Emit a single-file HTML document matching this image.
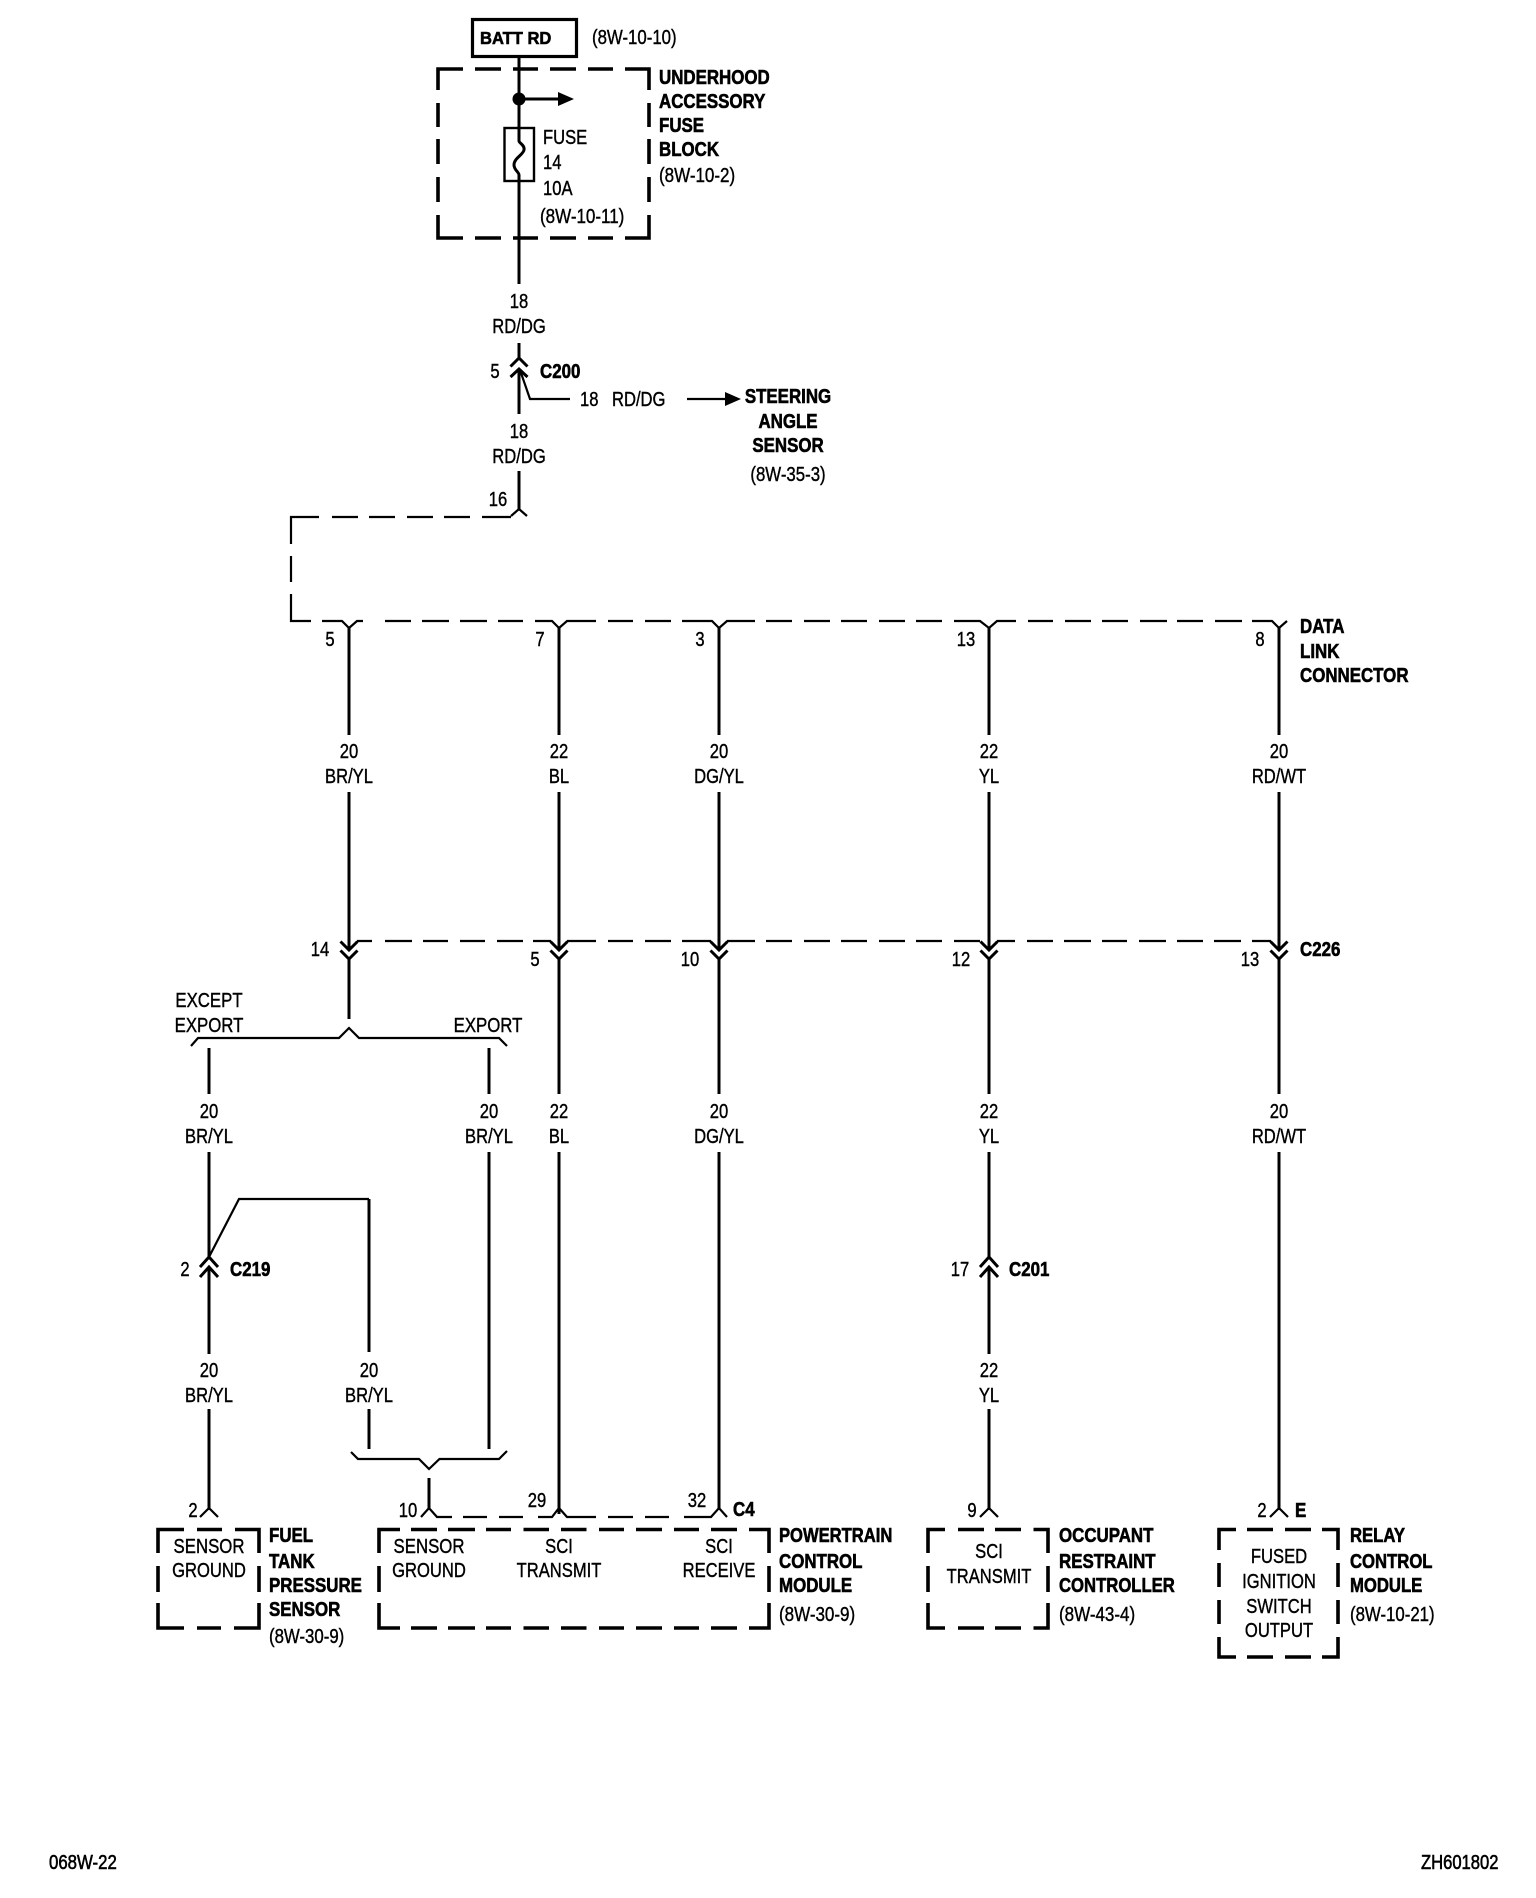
<!DOCTYPE html>
<html><head><meta charset="utf-8"><style>
html,body{margin:0;padding:0;background:#fff}
svg{display:block}
text{font-family:"Liberation Sans",sans-serif;font-size:20px;fill:#000}
.r{stroke:#000;stroke-width:.4}
.b{font-weight:bold;stroke:#000;stroke-width:.6}
.m{text-anchor:middle}
.w{fill:none;stroke:#000;stroke-width:3}
.t{fill:none;stroke:#000;stroke-width:2.2}
.d{fill:none;stroke:#000;stroke-width:3.6}
</style></head><body>
<svg width="1536" height="1898" viewBox="0 0 1536 1898" xmlns="http://www.w3.org/2000/svg">
<rect width="1536" height="1898" fill="#fff"/>
<!-- top box -->
<rect x="472.500" y="19.500" width="104" height="37" fill="none" stroke="#000" stroke-width="3.200"/>
<path class="d" d="M438 90V69H463M475 69H501M513 69H538M550 69H576M588 69H613M625 69H649V90M649 103V127M649 139V164M649 177V202M649 215V238H625M613 238H588M576 238H550M538 238H513M501 238H475M463 238H438V215M438 202V177M438 164V139M438 127V103"/>
<path class="w" d="M519 58V128M519 182V284"/>
<circle cx="519" cy="99" r="6.500"/>
<path class="w" d="M519 99H560"/>
<path d="M558 92L574 99L558 106Z"/>
<rect x="504.500" y="128" width="29.500" height="53" fill="none" stroke="#000" stroke-width="2.400"/>
<path class="w" d="M519 128V141C519 143 525 145 524 150C523 155 514 158 514 165C514 170 519 172 519 175V182"/>
<!-- C200 -->
<path class="w" d="M519 343V358M510.500 366.500L519 358L527.500 366.500M510.500 377L519 369L527.500 377M519 369V414"/>
<path class="t" d="M520 370L530 399H570M687 399H728"/>
<path d="M725 392L741 399L725 406Z"/>
<path class="w" d="M519 471V509"/>
<path class="t" d="M511 516L519 509L527 516"/>
<!-- dashed harness upper -->
<path class="t" d="M511 517H482M470 517H444M433 517H407M395 517H369M358 517H332M319 517H291V544M291 556V582M291 594V621H311M322 621H342L349 628L357 621H363M385 621H411M422 621H449M460 621H487M498 621H523M535 621H552L559 628L567 621H596M608 621H633M645 621H671M682 621H712L719 628L727 621H755M766 621H792M804 621H830M841 621H867M879 621H905M916 621H942M954 621H980L989 628L997 621H1016M1028 621H1053M1065 621H1091M1102 621H1128M1140 621H1167M1177 621H1203M1215 621H1242M1252 621H1272L1279 628L1287 621"/>
<path class="w" d="M349 628V735M349 792V950M559 628V735M559 792V950M719 628V735M719 792V950M989 628V735M989 792V950M1279 628V735M1279 792V950"/>
<!-- C226 -->
<path class="t" d="M357 941H372M385 941H412M423 941H448M460 941H485M497 941H523M533 941H551M567 941H596M608 941H633M645 941H671M682 941H711M727 941H755M766 941H792M804 941H830M841 941H867M879 941H905M916 941H942M954 941H980M997 941H1015M1027 941H1053M1064 941H1091M1102 941H1127M1139 941H1166M1177 941H1203M1214 941H1241M1252 941H1271"/>
<path class="w" d="M340.500 941.500L349 950L357.500 941.500M340.500 950.500L349 959L357.500 950.500M550.500 941.500L559 950L567.500 941.500M550.500 950.500L559 959L567.500 950.500M710.500 941.500L719 950L727.500 941.500M710.500 950.500L719 959L727.500 950.500M980.500 941.500L989 950L997.500 941.500M980.500 950.500L989 959L997.500 950.500M1270.500 941.500L1279 950L1287.500 941.500M1270.500 950.500L1279 959L1287.500 950.500"/>
<path class="w" d="M349 959V1019M559 959V1094M559 1152V1514M719 959V1094M719 1152V1508M989 959V1094M989 1152V1257M989 1267V1354M989 1409V1508M1279 959V1094M1279 1152V1508"/>
<!-- bracket -->
<path class="t" d="M191 1046L198 1038H339L349 1028L359 1038H499L507 1046"/>
<path class="w" d="M209 1048V1094M209 1152V1257M209 1267V1354M209 1409V1508M489 1048V1094M489 1152V1449M369 1199V1352M369 1409V1449"/>
<path class="t" d="M209 1257L239 1199H369"/>
<path class="w" d="M200 1267L209 1257L218 1267M200 1277L209 1267L218 1277M980 1267L989 1257L998 1267M980 1277L989 1267L998 1277"/>
<!-- lower bracket -->
<path class="t" d="M351 1452L358 1459H419L429 1469L439.500 1459H499L507 1451"/>
<path class="w" d="M429 1478V1508"/>
<!-- bottom connector -->
<path class="t" d="M421 1517L429 1508L437 1517H452M463 1517H487M499 1517H523M538 1517H552L559 1508L567 1517H596M608 1517H633M645 1517H669M684 1517H711L719 1508L727 1517M200 1517L209 1508L218 1517M980 1517L989 1508L998 1517M1270 1517L1279 1508L1288 1517"/>
<!-- boxes -->
<path class="d" d="M158 1553V1529.500H184M197 1529.500H222M235 1529.500H259V1553M259 1566V1592M259 1603V1628H234M221 1628H197M184 1628H158V1603M158 1592V1566"/>
<path class="d" d="M379 1553V1529.500H400M411 1529.500H437M448 1529.500H475M486 1529.500H511M523.500 1529.500H549M561 1529.500H586.500M599 1529.500H624M636 1529.500H662M674 1529.500H699M711 1529.500H737M749 1529.500H769V1553M769 1566V1592M769 1603V1628H749M737 1628H711M699 1628H674M662 1628H636M624 1628H599M586.500 1628H561M549 1628H523.500M511 1628H486M475 1628H448M437 1628H411M400 1628H379V1603M379 1592V1566"/>
<path class="d" d="M928 1553V1529.500H945M958 1529.500H984M995 1529.500H1021M1033.500 1529.500H1048V1553M1048 1566V1592M1048 1603V1628H1033.500M1021 1628H995M984 1628H958M945 1628H928V1603M928 1592V1566"/>
<path class="d" d="M1219 1550V1529.500H1236M1247 1529.500H1273M1285 1529.500H1311M1322 1529.500H1338V1550M1338 1563V1587M1338 1600V1624M1338 1637V1657H1322M1311 1657H1285M1273 1657H1247M1236 1657H1219V1637M1219 1624V1600M1219 1587V1563"/>
<!-- top labels -->
<text class="b" style="font-size:18px" transform="translate(480 44) scale(.92 1)">BATT RD</text>
<text class="r" transform="translate(592 44) scale(.84 1)">(8W-10-10)</text>
<text class="b" transform="translate(659 84) scale(.845 1)">UNDERHOOD</text>
<text class="b" transform="translate(659 108) scale(.845 1)">ACCESSORY</text>
<text class="b" transform="translate(659 132) scale(.845 1)">FUSE</text>
<text class="b" transform="translate(659 156) scale(.845 1)">BLOCK</text>
<text class="r" transform="translate(659 182) scale(.85 1)">(8W-10-2)</text>
<text class="r" transform="translate(543 144) scale(.83 1)">FUSE</text>
<text class="r" transform="translate(543 169) scale(.83 1)">14</text>
<text class="r" transform="translate(543 195) scale(.83 1)">10A</text>
<text class="r" transform="translate(540 223) scale(.85 1)">(8W-10-11)</text>
<text class="r m" transform="translate(519 308) scale(.83 1)">18</text>
<text class="r m" transform="translate(519 333) scale(.83 1)">RD/DG</text>
<text class="r m" transform="translate(495 378) scale(.83 1)">5</text>
<text class="b" transform="translate(540 378) scale(.845 1)">C200</text>
<text class="r" transform="translate(580 406) scale(.83 1)">18</text>
<text class="r" transform="translate(612 406) scale(.83 1)">RD/DG</text>
<text class="b m" transform="translate(788 403) scale(.845 1)">STEERING</text>
<text class="b m" transform="translate(788 428) scale(.845 1)">ANGLE</text>
<text class="b m" transform="translate(788 452) scale(.845 1)">SENSOR</text>
<text class="r m" transform="translate(788 481) scale(.84 1)">(8W-35-3)</text>
<text class="r m" transform="translate(519 438) scale(.83 1)">18</text>
<text class="r m" transform="translate(519 463) scale(.83 1)">RD/DG</text>
<text class="r m" transform="translate(498 506) scale(.83 1)">16</text>
<!-- pin numbers row 1 -->
<text class="r m" transform="translate(330 646) scale(.83 1)">5</text>
<text class="r m" transform="translate(540 646) scale(.83 1)">7</text>
<text class="r m" transform="translate(700 646) scale(.83 1)">3</text>
<text class="r m" transform="translate(966 646) scale(.83 1)">13</text>
<text class="r m" transform="translate(1260 646) scale(.83 1)">8</text>
<text class="b" transform="translate(1300 633) scale(.845 1)">DATA</text>
<text class="b" transform="translate(1300 658) scale(.845 1)">LINK</text>
<text class="b" transform="translate(1300 682) scale(.845 1)">CONNECTOR</text>
<!-- wire labels row 1 -->
<text class="r m" transform="translate(349 758) scale(.83 1)">20</text>
<text class="r m" transform="translate(349 783) scale(.83 1)">BR/YL</text>
<text class="r m" transform="translate(559 758) scale(.83 1)">22</text>
<text class="r m" transform="translate(559 783) scale(.83 1)">BL</text>
<text class="r m" transform="translate(719 758) scale(.83 1)">20</text>
<text class="r m" transform="translate(719 783) scale(.83 1)">DG/YL</text>
<text class="r m" transform="translate(989 758) scale(.83 1)">22</text>
<text class="r m" transform="translate(989 783) scale(.83 1)">YL</text>
<text class="r m" transform="translate(1279 758) scale(.83 1)">20</text>
<text class="r m" transform="translate(1279 783) scale(.83 1)">RD/WT</text>
<!-- pin numbers row 2 -->
<text class="r m" transform="translate(320 956) scale(.83 1)">14</text>
<text class="r m" transform="translate(535 966) scale(.83 1)">5</text>
<text class="r m" transform="translate(690 966) scale(.83 1)">10</text>
<text class="r m" transform="translate(961 966) scale(.83 1)">12</text>
<text class="r m" transform="translate(1250 966) scale(.83 1)">13</text>
<text class="b" transform="translate(1300 956) scale(.845 1)">C226</text>
<text class="r m" transform="translate(209 1007) scale(.84 1)">EXCEPT</text>
<text class="r m" transform="translate(209 1032) scale(.84 1)">EXPORT</text>
<text class="r m" transform="translate(488 1032) scale(.84 1)">EXPORT</text>
<!-- wire labels row 2 -->
<text class="r m" transform="translate(209 1118) scale(.83 1)">20</text>
<text class="r m" transform="translate(209 1143) scale(.83 1)">BR/YL</text>
<text class="r m" transform="translate(489 1118) scale(.83 1)">20</text>
<text class="r m" transform="translate(489 1143) scale(.83 1)">BR/YL</text>
<text class="r m" transform="translate(559 1118) scale(.83 1)">22</text>
<text class="r m" transform="translate(559 1143) scale(.83 1)">BL</text>
<text class="r m" transform="translate(719 1118) scale(.83 1)">20</text>
<text class="r m" transform="translate(719 1143) scale(.83 1)">DG/YL</text>
<text class="r m" transform="translate(989 1118) scale(.83 1)">22</text>
<text class="r m" transform="translate(989 1143) scale(.83 1)">YL</text>
<text class="r m" transform="translate(1279 1118) scale(.83 1)">20</text>
<text class="r m" transform="translate(1279 1143) scale(.83 1)">RD/WT</text>
<!-- C219 / C201 -->
<text class="r m" transform="translate(185 1276) scale(.83 1)">2</text>
<text class="b" transform="translate(230 1276) scale(.845 1)">C219</text>
<text class="r m" transform="translate(960 1276) scale(.83 1)">17</text>
<text class="b" transform="translate(1009 1276) scale(.845 1)">C201</text>
<!-- wire labels row 3 -->
<text class="r m" transform="translate(209 1377) scale(.83 1)">20</text>
<text class="r m" transform="translate(209 1402) scale(.83 1)">BR/YL</text>
<text class="r m" transform="translate(369 1377) scale(.83 1)">20</text>
<text class="r m" transform="translate(369 1402) scale(.83 1)">BR/YL</text>
<text class="r m" transform="translate(989 1377) scale(.83 1)">22</text>
<text class="r m" transform="translate(989 1402) scale(.83 1)">YL</text>
<!-- bottom pins -->
<text class="r m" transform="translate(193 1517) scale(.83 1)">2</text>
<text class="r m" transform="translate(408 1517) scale(.83 1)">10</text>
<text class="r m" transform="translate(537 1507) scale(.83 1)">29</text>
<text class="r m" transform="translate(697 1507) scale(.83 1)">32</text>
<text class="b" transform="translate(733 1516) scale(.845 1)">C4</text>
<text class="r m" transform="translate(972 1517) scale(.83 1)">9</text>
<text class="r m" transform="translate(1262 1517) scale(.83 1)">2</text>
<text class="b" transform="translate(1295 1517) scale(.845 1)">E</text>
<!-- box contents -->
<text class="r m" transform="translate(209 1553) scale(.84 1)">SENSOR</text>
<text class="r m" transform="translate(209 1577) scale(.83 1)">GROUND</text>
<text class="r m" transform="translate(429 1553) scale(.84 1)">SENSOR</text>
<text class="r m" transform="translate(429 1577) scale(.83 1)">GROUND</text>
<text class="r m" transform="translate(559 1553) scale(.83 1)">SCI</text>
<text class="r m" transform="translate(559 1577) scale(.83 1)">TRANSMIT</text>
<text class="r m" transform="translate(719 1553) scale(.83 1)">SCI</text>
<text class="r m" transform="translate(719 1577) scale(.83 1)">RECEIVE</text>
<text class="r m" transform="translate(989 1558) scale(.83 1)">SCI</text>
<text class="r m" transform="translate(989 1583) scale(.83 1)">TRANSMIT</text>
<text class="r m" transform="translate(1279 1563) scale(.83 1)">FUSED</text>
<text class="r m" transform="translate(1279 1588) scale(.83 1)">IGNITION</text>
<text class="r m" transform="translate(1279 1613) scale(.83 1)">SWITCH</text>
<text class="r m" transform="translate(1279 1637) scale(.83 1)">OUTPUT</text>
<!-- box names -->
<text class="b" transform="translate(269 1542) scale(.845 1)">FUEL</text>
<text class="b" transform="translate(269 1568) scale(.845 1)">TANK</text>
<text class="b" transform="translate(269 1592) scale(.845 1)">PRESSURE</text>
<text class="b" transform="translate(269 1616) scale(.845 1)">SENSOR</text>
<text class="r" transform="translate(269 1643) scale(.84 1)">(8W-30-9)</text>
<text class="b" transform="translate(779 1542) scale(.83 1)">POWERTRAIN</text>
<text class="b" transform="translate(779 1568) scale(.845 1)">CONTROL</text>
<text class="b" transform="translate(779 1592) scale(.845 1)">MODULE</text>
<text class="r" transform="translate(779 1621) scale(.85 1)">(8W-30-9)</text>
<text class="b" transform="translate(1059 1542) scale(.845 1)">OCCUPANT</text>
<text class="b" transform="translate(1059 1568) scale(.845 1)">RESTRAINT</text>
<text class="b" transform="translate(1059 1592) scale(.835 1)">CONTROLLER</text>
<text class="r" transform="translate(1059 1621) scale(.85 1)">(8W-43-4)</text>
<text class="b" transform="translate(1350 1542) scale(.835 1)">RELAY</text>
<text class="b" transform="translate(1350 1568) scale(.835 1)">CONTROL</text>
<text class="b" transform="translate(1350 1592) scale(.835 1)">MODULE</text>
<text class="r" transform="translate(1350 1621) scale(.84 1)">(8W-10-21)</text>
<!-- footer -->
<text class="r" style="stroke-width:.6" transform="translate(49 1869) scale(.84 1)">068W-22</text>
<text class="r" style="stroke-width:.6" transform="translate(1421 1869) scale(.83 1)">ZH601802</text>
</svg>
</body></html>
